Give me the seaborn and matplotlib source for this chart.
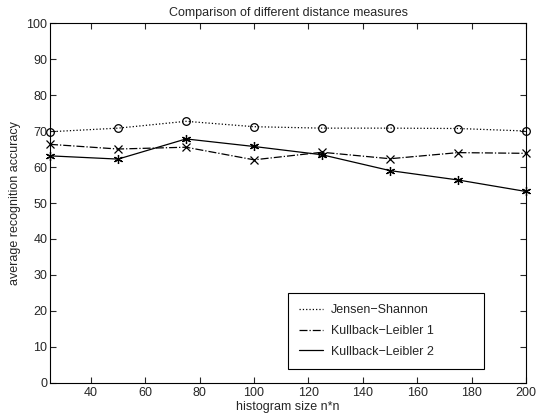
import copy
import numpy as np
import pandas as pd
import matplotlib
matplotlib.use("Agg")
import matplotlib.pyplot as plt
import seaborn as sns

sizes = [25, 50, 75, 100, 125, 150, 175, 200]
jensen_shannon = [69.8, 70.8, 72.7, 71.2, 70.8, 70.8, 70.7, 70.0]
kullback_leibler_1 = [66.3, 65.0, 65.5, 62.0, 64.1, 62.3, 64.0, 63.8]
kullback_leibler_2 = [63.1, 62.2, 67.8, 65.7, 63.4, 59.0, 56.4, 53.2]
labels = ["Jensen\u2212Shannon", "Kullback\u2212Leibler 1", "Kullback\u2212Leibler 2"]

sns.set_style("ticks")
plt.rcParams.update({"font.family": ["Liberation Sans", "DejaVu Sans"], "font.size": 9,
                     "xtick.direction": "in", "ytick.direction": "in",
                     "xtick.top": True, "ytick.right": True,
                     "xtick.major.size": 4, "ytick.major.size": 4,
                     "xtick.major.pad": 3, "ytick.major.pad": 2,
                     "axes.linewidth": 0.8, "axes.edgecolor": "black"})

df = pd.DataFrame({"size": sizes * 3,
                   "acc": jensen_shannon + kullback_leibler_1 + kullback_leibler_2,
                   "measure": np.repeat(labels, len(sizes))})

fig = plt.figure(figsize=(5.52, 4.19), dpi=100)
ax = fig.add_axes([0.0906, 0.086, 0.8624, 0.859])
styles = {labels[0]: (":", "o", 5.5, "none"),
          labels[1]: ("-.", "x", 5.5, "black"),
          labels[2]: ("-", (6, 2, 0), 6.5, "black")}
for name, g in df.groupby("measure", sort=False):
    ls, mk, ms, mfc = styles[name]
    sns.lineplot(data=g, x="size", y="acc", ax=ax, color="black", linestyle=ls, lw=0.9,
                 marker=mk, markersize=ms, markerfacecolor=mfc, markeredgecolor="black",
                 markeredgewidth=0.9, label=name, clip_on=False)

ax.set_xlim(25, 200)
ax.set_ylim(0, 100)
ax.set_xticks(range(40, 201, 20))
ax.set_yticks(range(0, 101, 10))
ax.set_xlabel("histogram size n*n", labelpad=1)
ax.set_ylabel("average recognition accuracy", labelpad=4)
ax.set_title("Comparison of different distance measures", fontsize=9, pad=5)
for s in ax.spines.values():
    s.set_visible(True)

h, l = ax.get_legend_handles_labels()
h2 = []
for hh in h:
    c = copy.copy(hh)
    c.set_marker("")
    h2.append(c)
leg = ax.legend(h2, l, loc="lower left", bbox_to_anchor=(0.5, 0.039, 0.412, 0.217),
                mode="expand", fancybox=False, edgecolor="black", framealpha=1,
                handlelength=1.9, handletextpad=0.6, borderpad=0.9, borderaxespad=0,
                labelspacing=0.7, fontsize=9)
leg.get_frame().set_linewidth(0.8)

fig.savefig("out.png", dpi=100)
